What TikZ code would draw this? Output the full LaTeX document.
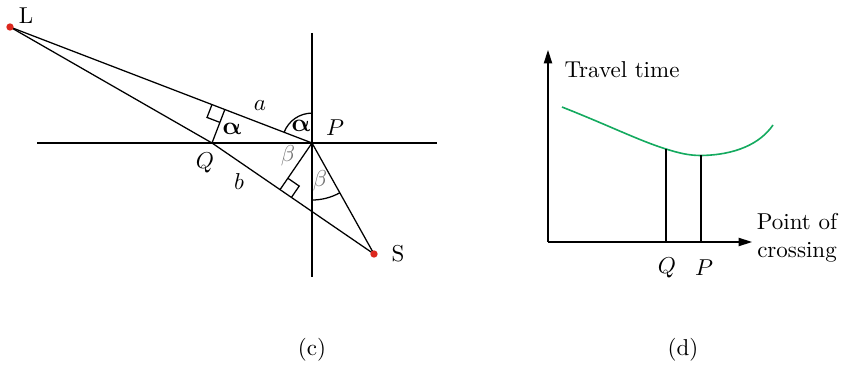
\documentclass[tikz,border=0pt]{standalone}
\usepackage{amsmath,bm}
\usetikzlibrary{calc,angles,arrows.meta}
\definecolor{dotred}{RGB}{220,40,30}
\definecolor{curvegreen}{RGB}{20,170,95}
\begin{document}
\begin{tikzpicture}[x=0.435pt,y=-0.435pt, line width=0.55pt,
  dot/.style={circle,fill=dotred,inner sep=0pt,minimum size=3.2pt},
  greek/.style={text=black!55},
  balpha/.style={xslant=-0.22, scale=1.1, transform shape},
  axis/.style={-{Triangle[length=5.8pt,width=3.6pt]}}]
\useasboundingbox (0,0) rectangle (847,368);
% ---- (c) ----
\coordinate (L) at (10,27);
\coordinate (P) at (312,143);
\coordinate (Q) at (212,143);
\coordinate (S) at (374,254);
\coordinate (H1) at (37,143);
\coordinate (H2) at (437,143);
\coordinate (V1) at (312,33);
\coordinate (V2) at (312,277);
\draw (H1) -- (H2);
\draw (V1) -- (V2);
\draw (L) -- (P) -- (S);
\draw (L) -- (Q) -- (S);
\coordinate (F1) at ($(L)!(Q)!(P)$);
\coordinate (F2) at ($(Q)!(P)!(S)$);
\draw (Q) -- (F1);
\draw (P) -- (F2);
\coordinate (F1a) at ($(F1)!6pt!(L)$);
\coordinate (F1b) at ($(F1)!6pt!(Q)$);
\draw (F1a) -- ($(F1a)+(F1b)-(F1)$) -- (F1b);
\coordinate (F2a) at ($(F2)!6pt!(P)$);
\coordinate (F2b) at ($(F2)!6pt!(S)$);
\draw (F2a) -- ($(F2a)+(F2b)-(F2)$) -- (F2b);
\pic[draw, angle radius=13pt] {angle=V1--P--L};
\pic[draw, angle radius=24.8pt] {angle=V2--P--S};
\node[dot] (Ld) at (L) {};
\node[dot] (Sd) at (S) {};
\node (Llab) at (26,16) {L};
\node (Slab) at (398,254) {S};
\node (alab) at (260,106) {$a$};
\node (blab) at (239,182) {$b$};
\node (Plab) at (335,128) {$P$};
\node (Qlab) at (205,163) {$Q$};
\node[balpha] (al1) at (232,129) {$\bm{\alpha}$};
\node[balpha] (al2) at (301,126) {$\bm{\alpha}$};
\node[greek] (be1) at (288,156) {$\beta$};
\node[greek] (be2) at (320,181) {$\beta$};
\node (clab) at (312,350) {(c)};
% ---- (d) ----
\coordinate (O) at (548,242);
\coordinate (Ytop) at (548,50);
\coordinate (Xend) at (752,242);
\draw[axis] (O) -- (Ytop);
\draw[axis] (O) -- (Xend);
\coordinate (C0) at (562,107);
\coordinate (CQ) at (666,149);
\coordinate (CP) at (701,155.5);
\coordinate (C1) at (773,125);
\draw[curvegreen, line width=0.7pt] (C0) .. controls (610,126) and (640,141) .. (CQ)
  .. controls (680,153.5) and (690,155.5) .. (CP)
  .. controls (735,155) and (760,144) .. (C1);
\draw (CQ) -- (CQ |- O);
\draw (CP) -- (CP |- O);
\node (tt) at (622,70) {Travel time};
\node[align=center] (pc) at (797,238) {Point of\\crossing};
\node (Qd) at (667,268) {$Q$};
\node (Pd) at (704,268) {$P$};
\node (dlab) at (683,350) {(d)};
\end{tikzpicture}
\end{document}
